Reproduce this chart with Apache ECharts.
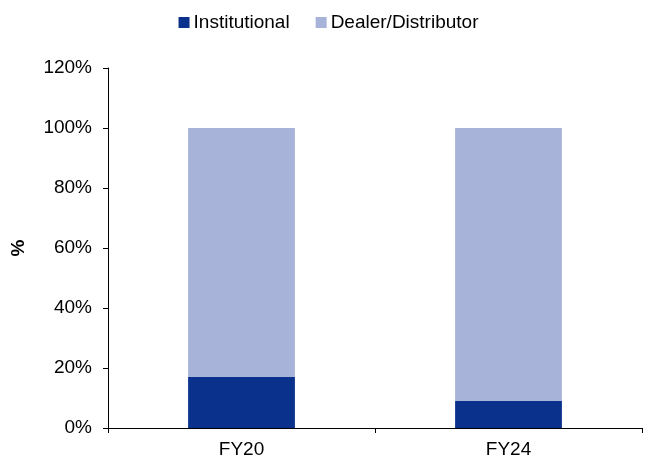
<!DOCTYPE html>
<html>
	<head>
		<meta charset="utf-8">
		<title></title>
	</head>
	<style type="text/css">
		body { margin: 0; }
		#graphical {
			width: 657px;
			height: 463px;
		}
	</style>
	<body>
		<div id="graphical"></div>
		<script src="https://cdn.jsdelivr.net/npm/echarts@6/dist/echarts.min.js" type="text/javascript" charset="utf-8"></script>
		<script type="text/javascript">
			var categories = ['FY20', 'FY24'];
			var institutional = [17, 9];
			var dealer = [83, 91];
			var yTicks = [0, 20, 40, 60, 80, 100, 120];

			var chart = echarts.init(document.getElementById('graphical'));
			var option = {
				animation: false,
				textStyle: {
					fontFamily: 'Liberation Sans, Arial, sans-serif'
				},
				legend: {
					data: ['Institutional', 'Dealer/Distributor'],
					top: 8,
					left: 'center',
					icon: 'rect',
					itemWidth: 11,
					itemHeight: 11,
					itemGap: 26,
					textStyle: {
						fontSize: 19,
						color: '#000',
						padding: [0, 0, 0, -1]
					}
				},
				grid: {
					top: 68,
					left: 108,
					right: 15,
					bottom: 35
				},
				xAxis: {
					type: 'category',
					data: categories,
					axisLine: {
						lineStyle: { color: '#000', width: 1 }
					},
					axisTick: {
						show: true,
						length: 5,
						lineStyle: { color: '#000' }
					},
					axisLabel: {
						color: '#000',
						fontSize: 19,
						margin: 12
					}
				},
				yAxis: {
					type: 'value',
					min: yTicks[0],
					max: yTicks[yTicks.length - 1],
					interval: 20,
					name: '%',
					nameLocation: 'middle',
					nameGap: 80,
					nameTextStyle: {
						color: '#000',
						fontSize: 19,
						fontWeight: 'bold'
					},
					axisLine: {
						show: true,
						lineStyle: { color: '#000', width: 1 }
					},
					axisTick: {
						show: true,
						length: 5,
						lineStyle: { color: '#000' }
					},
					axisLabel: {
						color: '#000',
						fontSize: 19,
						margin: 16,
						formatter: '{value}%'
					},
					splitLine: { show: false }
				},
				series: [{
					name: 'Institutional',
					type: 'bar',
					stack: 'total',
					barWidth: '40%',
					data: institutional,
					itemStyle: { color: '#0a318c' }
				}, {
					name: 'Dealer/Distributor',
					type: 'bar',
					stack: 'total',
					barWidth: '40%',
					data: dealer,
					itemStyle: { color: '#a7b3d9' }
				}]
			};
			chart.setOption(option);
		</script>
	</body>
</html>
